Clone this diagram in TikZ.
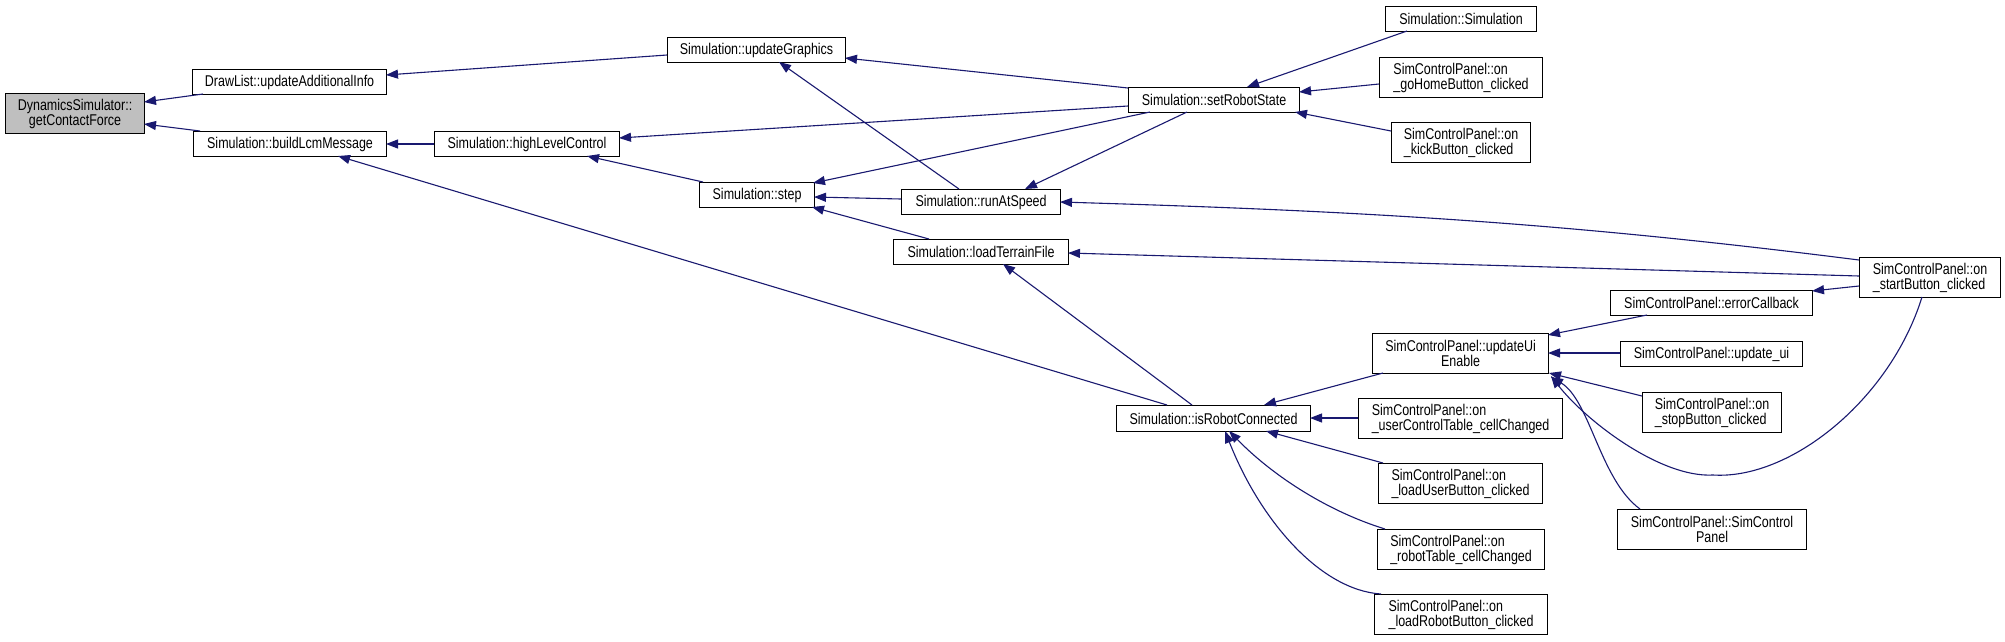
\documentclass[tikz,border=0pt]{standalone}
\usepackage{fontspec}
\setmainfont[FakeStretch=0.8]{Liberation Sans}
\usetikzlibrary{arrows.meta,calc}
\definecolor{edgeblue}{RGB}{25,25,112}
\definecolor{rootgray}{RGB}{191,191,191}
\begin{document}
\begin{tikzpicture}[x=1pt,y=-1pt,
  box/.style={draw=black, line width=1.1pt, inner sep=0pt, anchor=north west, fill=white,
    font=\fontsize{15.6}{15}\selectfont, align=center},
  lbox/.style={box, align=left},
  edge/.style={draw=edgeblue, line width=1.1pt, {Triangle[length=12pt,width=9pt]}-}
]
\useasboundingbox[fill=white] (0,0) rectangle (2005,641);
% nodes
\node[box, fill=rootgray, minimum width=139pt, minimum height=40pt] (dyn) at (5,93) {DynamicsSimulator::\\getContactForce};
\node[box, minimum width=194pt, minimum height=25pt] (drawlist) at (192,69) {DrawList::updateAdditionalInfo};
\node[box, minimum width=193pt, minimum height=25pt] (build) at (193,131) {Simulation::buildLcmMessage};
\node[box, minimum width=185pt, minimum height=25pt] (hlc) at (434,131) {Simulation::highLevelControl};
\node[box, minimum width=178pt, minimum height=25pt] (ug) at (667,37) {Simulation::updateGraphics};
\node[box, minimum width=171pt, minimum height=25pt] (srs) at (1128,87) {Simulation::setRobotState};
\node[box, minimum width=115pt, minimum height=25pt] (step) at (699,182) {Simulation::step};
\node[box, minimum width=159pt, minimum height=25pt] (ras) at (901,189) {Simulation::runAtSpeed};
\node[box, minimum width=175pt, minimum height=25pt] (ltf) at (893,239) {Simulation::loadTerrainFile};
\node[box, minimum width=151pt, minimum height=25pt] (simsim) at (1385,6) {Simulation::Simulation};
\node[lbox, minimum width=163pt, minimum height=40pt] (gohome) at (1379,57) {SimControlPanel::on\\\_goHomeButton\_clicked};
\node[lbox, minimum width=139pt, minimum height=40pt] (kick) at (1391,122) {SimControlPanel::on\\\_kickButton\_clicked};
\node[lbox, minimum width=141pt, minimum height=40pt] (start) at (1859,257) {SimControlPanel::on\\\_startButton\_clicked};
\node[box, minimum width=202pt, minimum height=25pt] (errcb) at (1610,290) {SimControlPanel::errorCallback};
\node[box, minimum width=176pt, minimum height=40pt] (uue) at (1372,333) {SimControlPanel::updateUi\\Enable};
\node[box, minimum width=182pt, minimum height=25pt] (updui) at (1620,341) {SimControlPanel::update\_ui};
\node[lbox, minimum width=139pt, minimum height=40pt] (stop) at (1642,392) {SimControlPanel::on\\\_stopButton\_clicked};
\node[box, minimum width=189pt, minimum height=40pt] (scp) at (1617,509) {SimControlPanel::SimControl\\Panel};
\node[box, minimum width=194pt, minimum height=26pt] (irc) at (1116,405) {Simulation::isRobotConnected};
\node[lbox, minimum width=204pt, minimum height=40pt] (uct) at (1358,398) {SimControlPanel::on\\\_userControlTable\_cellChanged};
\node[lbox, minimum width=164pt, minimum height=40pt] (lub) at (1378,463) {SimControlPanel::on\\\_loadUserButton\_clicked};
\node[lbox, minimum width=167pt, minimum height=40pt] (rtc) at (1377,529) {SimControlPanel::on\\\_robotTable\_cellChanged};
\node[lbox, minimum width=173pt, minimum height=40pt] (lrb) at (1374,594) {SimControlPanel::on\\\_loadRobotButton\_clicked};
% edges (arrow at callee end, first point)
\draw[edge] ($(dyn.north west)+(139,9)$) -- ($(drawlist.north west)+(11,25)$);
\draw[edge] ($(dyn.north west)+(139,31)$) -- ($(build.north west)+(7,0)$);
\draw[edge] ($(drawlist.north west)+(194,6)$) -- ($(ug.north west)+(0,18)$);
\draw[edge] ($(build.north west)+(193,13)$) -- ($(hlc.north west)+(0,13)$);
\draw[edge] ($(build.north west)+(145,25)$) -- ($(irc.north west)+(51,0)$);
\draw[edge] ($(ug.north west)+(178,21)$) -- ($(srs.north west)+(0,1)$);
\draw[edge] ($(ug.north west)+(112,25)$) -- ($(ras.north west)+(58,0)$);
\draw[edge] ($(hlc.north west)+(185,7)$) -- ($(srs.north west)+(0,19)$);
\draw[edge] ($(hlc.north west)+(153,25)$) -- ($(step.north west)+(4,0)$);
\draw[edge] ($(step.north west)+(114,1)$) -- ($(srs.north west)+(22,25)$);
\draw[edge] ($(step.north west)+(115,15)$) -- ($(ras.north west)+(0,10)$);
\draw[edge] ($(step.north west)+(113,25)$) -- ($(ltf.north west)+(36,0)$);
\draw[edge] ($(ras.north west)+(124,0)$) -- ($(srs.north west)+(59,25)$);
\draw[edge] ($(srs.north west)+(119,0)$) -- ($(simsim.north west)+(22,25)$);
\draw[edge] ($(srs.north west)+(171,5)$) -- ($(gohome.north west)+(0,27)$);
\draw[edge] ($(srs.north west)+(167,25)$) -- ($(kick.north west)+(0,9)$);
\draw[edge] ($(ras.north west)+(159,13)$) .. controls (1360,211) and (1559,222) .. ($(start.north west)+(0,3)$);
\draw[edge] ($(ltf.north west)+(175,14)$) -- ($(start.north west)+(0,19)$);
\draw[edge] ($(ltf.north west)+(110,25)$) -- ($(irc.north west)+(76,0)$);
\draw[edge] ($(errcb.north west)+(202,1)$) -- ($(start.north west)+(0,29)$);
\draw[edge] ($(uue.north west)+(176,2)$) -- ($(errcb.north west)+(37,25)$);
\draw[edge] ($(uue.north west)+(176,20)$) -- ($(updui.north west)+(0,12)$);
\draw[edge] ($(uue.north west)+(177,40)$) -- ($(stop.north west)+(0,4)$);
\draw[edge] ($(uue.north west)+(179,43)$) .. controls (1585,420) and (1660,478) .. (1713,475)
   .. controls (1790,480) and (1890,400) .. ($(start.north west)+(63,40)$);
\draw[edge] ($(uue.north west)+(179,44)$) .. controls (1590,400) and (1600,480) .. ($(scp.north west)+(23,0)$);
\draw[edge] ($(irc.north west)+(148,0)$) -- ($(uue.north west)+(11,40)$);
\draw[edge] ($(irc.north west)+(194,13)$) -- ($(uct.north west)+(0,20)$);
\draw[edge] ($(irc.north west)+(150,26)$) -- ($(lub.north west)+(5,0)$);
\draw[edge] ($(irc.north west)+(113,26)$) .. controls (1275,478) and (1330,512) .. ($(rtc.north west)+(8,0)$);
\draw[edge] ($(irc.north west)+(109,26)$) .. controls (1260,520) and (1320,590) .. ($(lrb.north west)+(7,0)$);
\end{tikzpicture}
\end{document}
